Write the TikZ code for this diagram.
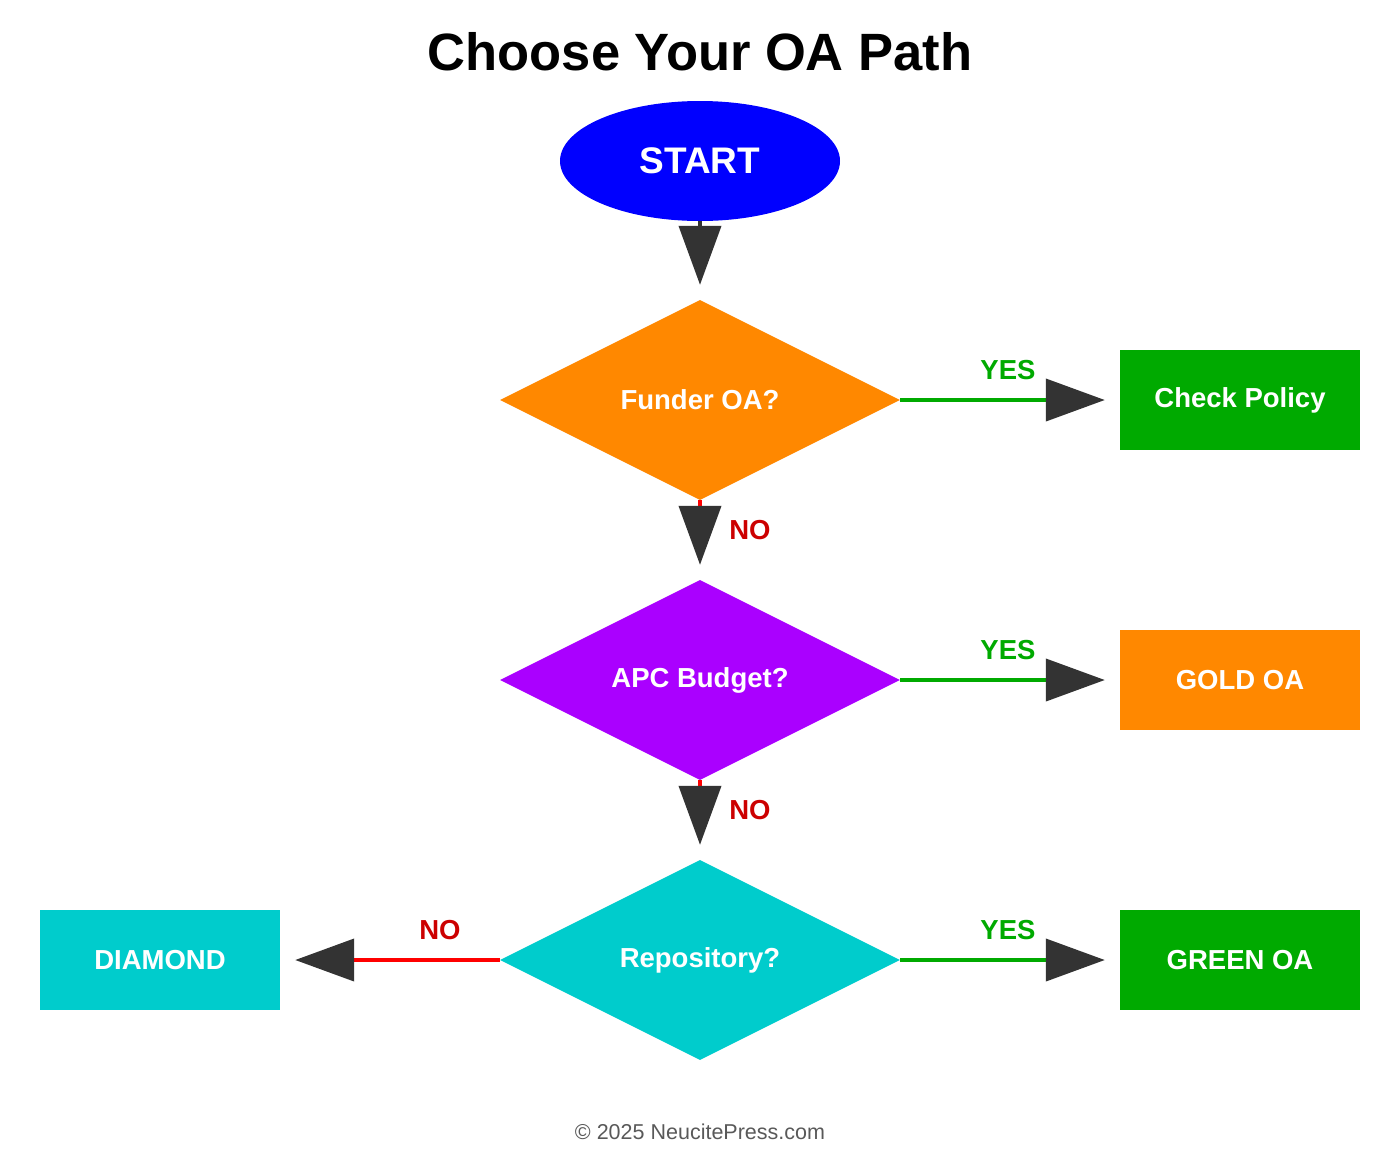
\documentclass[tikz,border=0pt]{standalone}
\usepackage{fontspec}
\setmainfont{Liberation Sans}
\usetikzlibrary{shapes.geometric,arrows.meta}
\definecolor{startblue}{HTML}{0000FF}
\definecolor{oaorange}{HTML}{FF8800}
\definecolor{oapurple}{HTML}{AA00FF}
\definecolor{oacyan}{HTML}{00CCCC}
\definecolor{oagreen}{HTML}{00AA00}
\definecolor{nored}{HTML}{CC0000}
\definecolor{tipgray}{HTML}{333333}
\begin{document}
\begin{tikzpicture}[x=1pt,y=-1pt,
  font=\bfseries,
  flow/.style={line width=4pt,shorten >=15pt,
    -{Triangle[length=59pt,width=42pt,color=tipgray]}},
  decision/.style={diamond,aspect=2,minimum width=400pt,minimum height=200pt,
    inner sep=0pt,text=white,font=\fontsize{27.5}{30}\selectfont\bfseries},
  result/.style={rectangle,minimum width=240pt,minimum height=100pt,
    inner sep=0pt,text=white,font=\fontsize{27.5}{30}\selectfont\bfseries},
  yes/.style={text=oagreen,font=\fontsize{27.5}{30}\selectfont\bfseries},
  no/.style={text=nored,font=\fontsize{27.5}{30}\selectfont\bfseries}]
\useasboundingbox (0,0) rectangle (1400,1160);

\node (title) at (700,52) {\fontsize{52.5}{56}\selectfont\bfseries Choose Your OA Path};
\node[ellipse,fill=startblue,minimum width=280pt,minimum height=120pt,
  text=white,font=\fontsize{37}{40}\selectfont\bfseries] (start) at (700,161) {START};

\node[decision,fill=oaorange] (funder) at (700,400) {Funder OA?};
\node[decision,fill=oapurple] (apc) at (700,680) {APC Budget?};
\node[decision,fill=oacyan] (repo) at (700,960) {Repository?};

\node[result,fill=oagreen] (policy) at (1240,400) {Check Policy};
\node[result,fill=oaorange] (gold) at (1240,680) {GOLD OA};
\node[result,fill=oagreen] (green) at (1240,960) {GREEN OA};
\node[result,fill=oacyan] (diamondoa) at (160,960) {DIAMOND};

\draw[flow,tipgray] (start) -- (funder.north);
\draw[flow,red] (funder.south) -- (apc.north);
\draw[flow,red] (apc.south) -- (repo.north);
\draw[flow,oagreen] (funder.east) -- (policy.west);
\draw[flow,oagreen] (apc.east) -- (gold.west);
\draw[flow,oagreen] (repo.east) -- (green.west);
\draw[flow,red] (repo.west) -- (diamondoa.east);

\node[yes] (y1) at (1008,370) {YES};
\node[yes] (y2) at (1008,650) {YES};
\node[yes] (y3) at (1008,930) {YES};
\node[no] (n1) at (750,530) {NO};
\node[no] (n2) at (750,810) {NO};
\node[no] (n3) at (440,930) {NO};

\node[text=black!65,font=\fontsize{21.5}{24}\selectfont] (footer) at (700,1132)
  {\textcopyright{} 2025 NeucitePress.com};
\end{tikzpicture}
\end{document}
